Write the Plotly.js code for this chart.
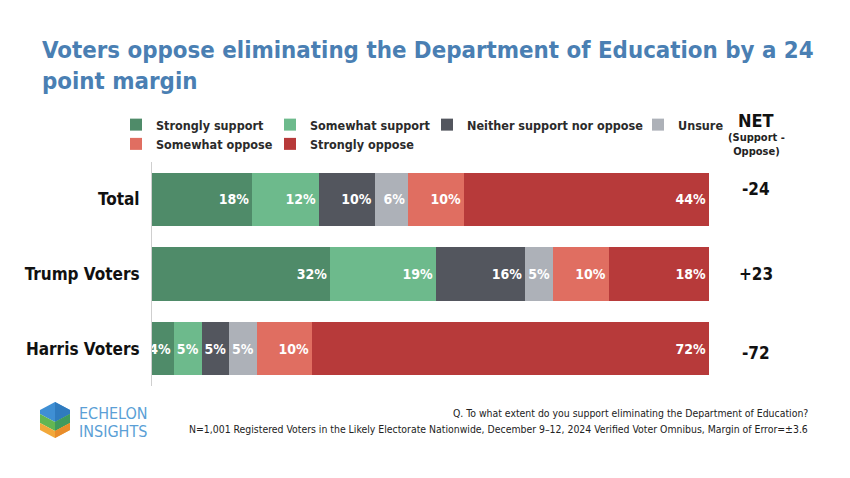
<!DOCTYPE html>
<html>
<head>
<meta charset="utf-8">
<script src="https://cdn.plot.ly/plotly-3.0.1.min.js"></script>
<style>
html,body{margin:0;padding:0;background:#fff;}
#chart{width:850px;height:478px;}
</style>
</head>
<body>
<div id="chart"></div>
<script>
// ---- data ----
const categories = ["Total", "Trump Voters", "Harris Voters"];
const seriesNames = ["Strongly support", "Somewhat support", "Neither support nor oppose", "Unsure", "Somewhat oppose", "Strongly oppose"];
const stronglySupport = [18, 32, 4];
const somewhatSupport = [12, 19, 5];
const neither = [10, 16, 5];
const unsure = [6, 5, 5];
const somewhatOppose = [10, 10, 10];
const stronglyOppose = [44, 18, 72];
const netValues = ["-24", "+23", "-72"];

// ---- styling ----
const BOLD = "'DejaVu Sans Condensed', 'DejaVu Sans', sans-serif";
const colors = ["#4f8b69", "#6dba8c", "#53565e", "#adb1b8", "#e06e61", "#b73a3a"];
const legendIds = ["legend", "legend2", "legend3", "legend4", "legend", "legend2"];
const series = [stronglySupport, somewhatSupport, neither, unsure, somewhatOppose, stronglyOppose];

const W = 850, H = 478;
const M = {l: 152, r: 141, t: 162, b: 92};
const PW = W - M.l - M.r, PH = H - M.t - M.b;
const px = x => (x - M.l) / PW;
const py = y => (H - M.b - y) / PH;

const traces = series.map((vals, i) => ({
  type: "bar",
  orientation: "h",
  name: seriesNames[i],
  y: categories,
  x: vals,
  text: vals.map(v => v + "%"),
  texttemplate: "%{text}",
  textposition: "inside",
  insidetextanchor: "end",
  textangle: 0,
  constraintext: "none",
  cliponaxis: false,
  textfont: {family: BOLD, size: 14, color: "#ffffff", weight: "bold"},
  marker: {color: colors[i], line: {width: 0}},
  legend: legendIds[i],
  hoverinfo: "skip"
}));

const legendBase = {
  orientation: "v", xanchor: "left", yanchor: "top", traceorder: "normal",
  font: {family: BOLD, size: 12.5, color: "#2b2b2b", weight: "bold"},
  bgcolor: "rgba(0,0,0,0)", borderwidth: 0, tracegroupgap: 0, itemwidth: 30,
  itemclick: false, itemdoubleclick: false
};
const legY = py(110);

const annotations = [];
// NET header
annotations.push({xref: "paper", yref: "paper", x: px(756), y: py(120), text: "<b>NET</b>", showarrow: false,
  xanchor: "center", yanchor: "middle", font: {family: BOLD, size: 18, color: "#111"}});
annotations.push({xref: "paper", yref: "paper", x: px(756), y: py(144), text: "<b>(Support -<br>Oppose)</b>", showarrow: false,
  xanchor: "center", yanchor: "middle", font: {family: BOLD, size: 11, color: "#222"}});
const netShift = [10, 0, -4];
categories.forEach((c, i) => {
  annotations.push({xref: "paper", yref: "y", x: px(756), y: c, yshift: netShift[i], text: "<b>" + netValues[i] + "</b>",
    showarrow: false, xanchor: "center", yanchor: "middle", font: {family: BOLD, size: 17, color: "#111"}});
});
// footnotes
annotations.push({xref: "paper", yref: "paper", x: px(810), y: py(413), text: "Q. To what extent do you support eliminating the Department of Education?",
  showarrow: false, xanchor: "right", yanchor: "middle", font: {family: BOLD, size: 10.4, color: "#222"}});
annotations.push({xref: "paper", yref: "paper", x: px(810), y: py(429), text: "N=1,001 Registered Voters in the Likely Electorate Nationwide, December 9–12, 2024 Verified Voter Omnibus, Margin of Error=±3.6",
  showarrow: false, xanchor: "right", yanchor: "middle", font: {family: BOLD, size: 10.4, color: "#222"}});
// logo text
annotations.push({xref: "paper", yref: "paper", x: px(77), y: py(413), text: "ECHELON",
  showarrow: false, xanchor: "left", yanchor: "middle", font: {family: BOLD, size: 16, color: "#5b9fd6"}});
annotations.push({xref: "paper", yref: "paper", x: px(77), y: py(431), text: "INSIGHTS",
  showarrow: false, xanchor: "left", yanchor: "middle", font: {family: BOLD, size: 16, color: "#5b9fd6"}});

// logo hexagon
function poly(pts, color) {
  return {type: "path", xref: "paper", yref: "paper", layer: "above",
    path: "M" + pts.map(p => px(p[0]) + "," + py(p[1])).join("L") + "Z",
    fillcolor: color, line: {width: 0}};
}
const cx = 55, hw = 15;
const shapes = [
  poly([[cx, 402], [cx + hw, 410], [cx + hw, 414], [cx, 422], [cx - hw, 414], [cx - hw, 410]], "#3f8fd4"),
  poly([[cx, 402], [cx + hw, 410], [cx + hw, 414], [cx, 422]], "#2f7bbf"),
  poly([[cx - hw, 414], [cx, 422], [cx + hw, 414], [cx + hw, 423], [cx, 431], [cx - hw, 423]], "#63b652"),
  poly([[cx, 422], [cx + hw, 414], [cx + hw, 423], [cx, 431]], "#3f9a5e"),
  poly([[cx - hw, 423], [cx, 431], [cx + hw, 423], [cx + hw, 430], [cx, 438], [cx - hw, 430]], "#f2a83a"),
  poly([[cx, 431], [cx + hw, 423], [cx + hw, 430], [cx, 438]], "#e88c2b")
];

const layout = {
  width: W, height: H,
  margin: M,
  paper_bgcolor: "#ffffff", plot_bgcolor: "#ffffff",
  barmode: "stack", barnorm: "percent", bargap: 0.29,
  title: {
    text: "Voters oppose eliminating the Department of Education by a 24<br>point margin",
    xref: "container", yref: "container", x: 42 / W, xanchor: "left", y: 1 - 58 / H, yanchor: "middle",
    font: {family: BOLD, size: 23.8, color: "#4a7fb3", weight: "bold"}
  },
  xaxis: {range: [0, 100], visible: false, fixedrange: true},
  yaxis: {
    type: "category", autorange: "reversed", showline: true, linecolor: "#cfcfcf", linewidth: 1,
    ticks: "", showgrid: false, zeroline: false, ticklabelstandoff: 8,
    tickfont: {family: BOLD, size: 17, color: "#111", weight: "bold"}, fixedrange: true
  },
  showlegend: true,
  legend: Object.assign({}, legendBase, {x: px(116), y: legY}),
  legend2: Object.assign({}, legendBase, {x: px(270), y: legY}),
  legend3: Object.assign({}, legendBase, {x: px(427), y: legY}),
  legend4: Object.assign({}, legendBase, {x: px(638), y: legY}),
  annotations: annotations,
  shapes: shapes
};

Plotly.newPlot("chart", traces, layout, {displayModeBar: false, staticPlot: true});
</script>
</body>
</html>
